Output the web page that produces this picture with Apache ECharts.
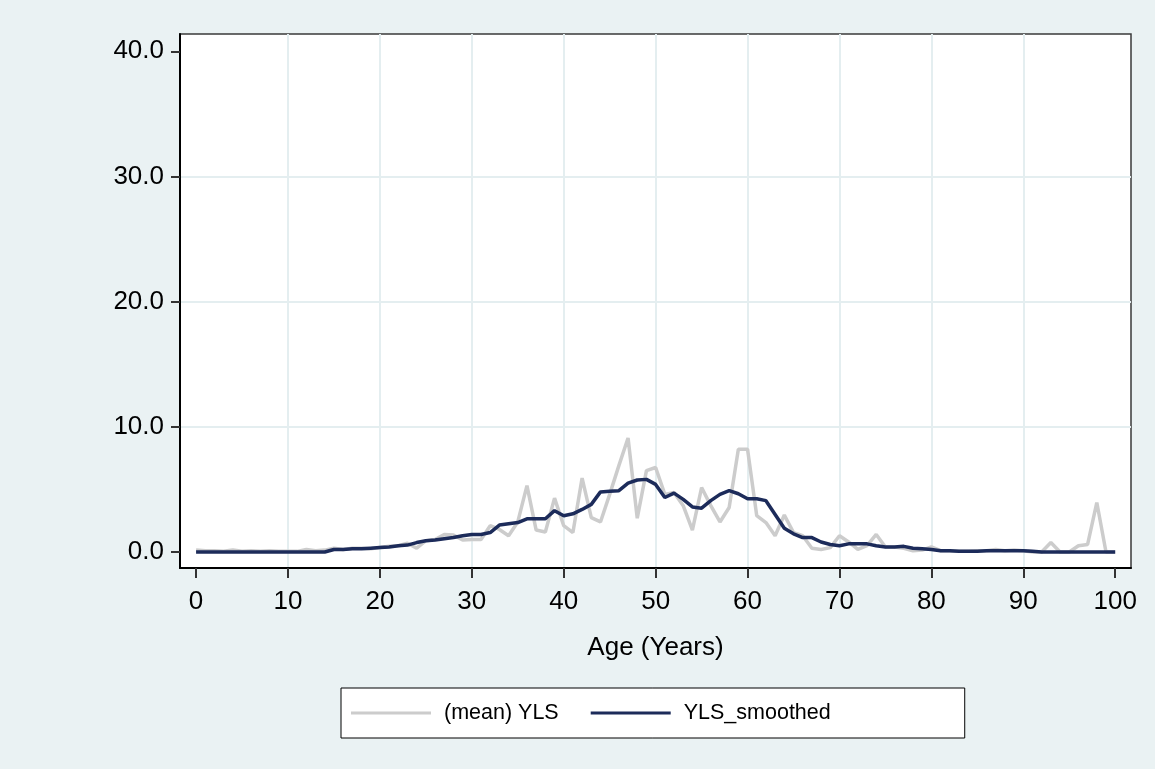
<!DOCTYPE html>
<html>
<head>
<meta charset="utf-8">
<script src="https://cdn.jsdelivr.net/npm/echarts@6.0.0/dist/echarts.min.js"></script>
<style>
html,body{margin:0;padding:0;background:#EAF2F3;}
#c{width:1155px;height:769px;}
</style>
</head>
<body>
<div id="c"></div>
<script>
// Ages (x categories)
var ages = [0,1,2,3,4,5,6,7,8,9,10,11,12,13,14,15,16,17,18,19,20,21,22,23,24,25,26,27,28,29,30,31,32,33,34,35,36,37,38,39,40,41,42,43,44,45,46,47,48,49,50,51,52,53,54,55,56,57,58,59,60,61,62,63,64,65,66,67,68,69,70,71,72,73,74,75,76,77,78,79,80,81,82,83,84,85,86,87,88,89,90,91,92,93,94,95,96,97,98,99,100];

// (mean) YLS
var meanYLS = [0.15,0.1,0.1,0.05,0.15,0.05,0.1,0.05,0.1,0.05,
  0.05,0.05,0.2,0.1,0.15,0.3,0.2,0.3,0.3,0.25,
  0.35,0.45,0.5,0.7,0.3,0.9,1.0,1.4,1.35,0.95,
  1.0,1.0,2.1,1.8,1.3,2.4,5.3,1.75,1.6,4.3,
  2.1,1.55,5.9,2.75,2.4,4.6,6.9,9.1,2.7,6.5,
  6.75,4.6,4.75,3.7,1.75,5.15,3.7,2.4,3.55,8.2,
  8.2,2.9,2.35,1.3,2.95,1.55,1.3,0.3,0.2,0.35,
  1.3,0.8,0.2,0.5,1.4,0.4,0.4,0.3,0.1,0.15,
  0.4,0.1,0.1,0.05,0.05,0.1,0.1,0.2,0.1,0.15,
  0.1,0.0,0.0,0.75,0.0,0.0,0.5,0.6,3.95,0.0,
  0.0];

// YLS_smoothed
var smoothYLS = [0,0,0,0,0,0,0,0,0,0,
  0,0,0,0,0,0.2,0.2,0.25,0.25,0.3,
  0.35,0.4,0.5,0.55,0.75,0.9,0.95,1.05,1.15,1.3,
  1.4,1.4,1.55,2.15,2.25,2.35,2.65,2.65,2.65,3.3,
  2.9,3.05,3.4,3.8,4.8,4.85,4.9,5.5,5.75,5.8,
  5.4,4.35,4.7,4.2,3.6,3.5,4.1,4.6,4.9,4.65,
  4.25,4.25,4.1,3.0,1.9,1.45,1.15,1.15,0.8,0.6,
  0.5,0.65,0.65,0.65,0.5,0.4,0.4,0.45,0.3,0.25,
  0.2,0.1,0.1,0.05,0.05,0.05,0.1,0.1,0.1,0.1,
  0.1,0.05,0,0,0,0,0,0,0,0,
  0];

var xTicks = [0,10,20,30,40,50,60,70,80,90,100];
var yTicks = [0,10,20,30,40];
var seriesNames = ['(mean) YLS','YLS_smoothed'];

function pairs(vals){ return ages.map(function(a,i){ return [a, vals[i]]; }); }

var FONT = 'Liberation Sans, Arial, sans-serif';
var chart = echarts.init(document.getElementById('c'), null, {renderer:'canvas'});
chart.setOption({
  animation:false,
  backgroundColor:'#EAF2F3',
  grid:{left:180, top:34, width:951, height:534, show:true, backgroundColor:'#ffffff', borderColor:'#3a3a3a', borderWidth:1.5},
  xAxis:{
    type:'value', min:-1.75, max:101.72, splitNumber:10,
    axisLine:{show:true, onZero:false, lineStyle:{color:'#000', width:2}},
    axisTick:{show:true, customValues:xTicks, length:10, lineStyle:{color:'#333', width:2}},
    axisLabel:{customValues:xTicks, margin:21, color:'#000', fontSize:26, fontFamily:FONT},
    splitLine:{show:true, showMinLine:false, showMaxLine:false, lineStyle:{color:'#E4EEF0', width:2}},
    name:'Age (Years)', nameLocation:'middle', nameGap:67,
    nameTextStyle:{color:'#000', fontSize:26, fontFamily:FONT}
  },
  yAxis:{
    type:'value', min:-1.28, max:41.38, splitNumber:4,
    axisLine:{show:true, onZero:false, lineStyle:{color:'#000', width:2}},
    axisTick:{show:true, customValues:yTicks, length:9, lineStyle:{color:'#333', width:2}},
    axisLabel:{customValues:yTicks, margin:16, color:'#000', fontSize:26, fontFamily:FONT, padding:[4,0,0,0],
      formatter:function(v){ return v.toFixed(1); }},
    splitLine:{show:true, showMinLine:false, showMaxLine:false, lineStyle:{color:'#E4EEF0', width:2}}
  },
  legend:{
    left:341, top:688, orient:'horizontal',
    data:[{name:seriesNames[0], icon:'rect'},{name:seriesNames[1], icon:'rect'}],
    backgroundColor:'#ffffff', borderColor:'#000', borderWidth:1,
    padding:[14,134,14,10], itemGap:32, itemWidth:80, itemHeight:3,
    textStyle:{color:'#000', fontSize:21.5, fontFamily:FONT, padding:[0,0,0,8], lineHeight:22}
  },
  series:[
    {name:seriesNames[0], type:'line', data:pairs(meanYLS), symbol:'none', showSymbol:false, clip:false,
      lineStyle:{color:'#CCCCCC', width:3.5}, itemStyle:{color:'#CCCCCC'}, z:2},
    {name:seriesNames[1], type:'line', data:pairs(smoothYLS), symbol:'none', showSymbol:false, clip:false,
      lineStyle:{color:'#1C2B5A', width:3.5}, itemStyle:{color:'#1C2B5A'}, z:3}
  ]
});
</script>
</body>
</html>
